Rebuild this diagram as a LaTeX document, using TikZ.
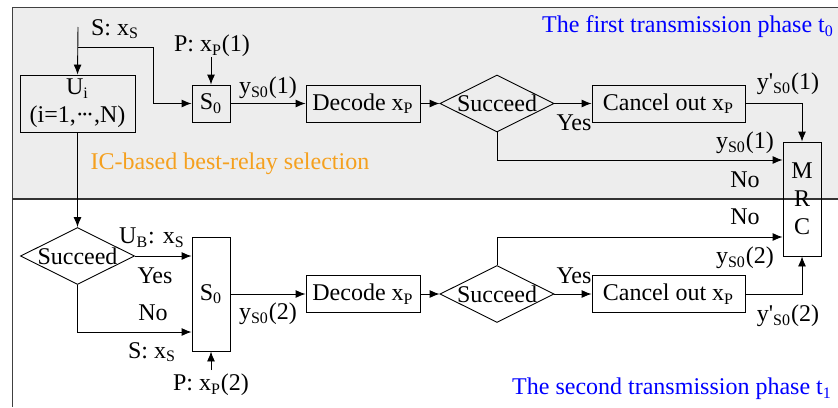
\documentclass[tikz,border=0pt]{standalone}
\usepackage{fontspec}
\setmainfont{Liberation Serif}
\usepackage{tikz}
\usetikzlibrary{arrows,arrows.meta,shapes.geometric}

\definecolor{phaseblue}{RGB}{0,0,255}
\definecolor{icorange}{RGB}{245,160,30}
\definecolor{panelgray}{RGB}{237,237,237}

\newcommand{\middots}{\textperiodcentered\kern-0.12em\textperiodcentered\kern-0.12em\textperiodcentered}

\tikzset{
	blk/.style={draw, inner sep=0pt, minimum height=18.5pt},
	dec/.style={draw, shape=diamond, aspect=2, inner sep=0pt, minimum width=57pt, minimum height=28.5pt},
	lnk/.style={-{Latex[length=5pt,width=4pt]}}
}

\begin{document}
\begin{tikzpicture}[x=0.5pt, y=-0.5pt, line width=0.45pt, every node/.append style={font=\rmfamily\fontsize{12}{14}\selectfont}]
	\useasboundingbox (0,0) rectangle (838,407);
	% panels
	\fill[panelgray] (12,7) rectangle (838,199);
	\draw[black!75] (838,7) -- (12,7) -- (12,407);
	\draw[black!80, line width=1.3pt] (12,199) -- (838,199);

	% first phase
	\node[blk, minimum width=57.5pt, minimum height=28.5pt, align=center] (Ui) at (77.5,103.5) {U\textsubscript{i}\\(i=1,\middots,N)};
	\node[blk, minimum width=19pt] (S0a) at (211,103.5) {S\textsubscript{0}};
	\node[blk, minimum width=57pt] (deca) at (363,103.5) {Decode x\textsubscript{P}};
	\node[dec] (suca) at (497,103.5) {Succeed};
	\node[blk, minimum width=76.5pt] (canca) at (668.5,103.5) {Cancel out x\textsubscript{P}};
	\node[blk, minimum width=19pt, minimum height=57pt, align=center] (mrc) at (802,199) {M\\R\\C};
	\coordinate (sin) at (78,27);
	\coordinate (br) at (78,47);
	\coordinate (pin1) at (211,57);

	\draw[lnk] (sin) -- (Ui.north);
	\draw[lnk] (br) -- ++(75,0) |- (S0a.west);
	\draw[lnk] (pin1) -- (S0a.north);
	\draw[lnk] (S0a) -- (deca);
	\draw[lnk] (deca) -- (suca);
	\draw[lnk] (suca) -- (canca);
	\draw[lnk] (canca.east) -| (mrc.north);
	\draw[lnk] (suca.south) |- ([yshift=19.5pt]mrc.west);

	\draw (115,29) node {S: x\textsubscript{S}};
	\draw (212,46) node {P: x\textsubscript{P}(1)};
	\draw (268,88) node {y\textsubscript{S0}(1)};
	\draw (574,123) node {Yes};
	\draw (788,84) node {y\textquotesingle\textsubscript{S0}(1)};
	\draw (745,143) node {y\textsubscript{S0}(1)};
	\draw (745,180) node {No};
	\draw (230,164) node[text=icorange] {IC-based best-relay selection};
	\draw (688,27) node[text=phaseblue] {The first transmission phase t\textsubscript{0}};

	% second phase
	\node[dec] (sucb) at (77.5,256) {Succeed};
	\node[blk, minimum width=19pt, minimum height=57pt] (S0b) at (211,294) {S\textsubscript{0}};
	\node[blk, minimum width=57pt] (decb) at (363,294) {Decode x\textsubscript{P}};
	\node[dec] (succ) at (497,294) {Succeed};
	\node[blk, minimum width=76.5pt] (cancb) at (668.5,294) {Cancel out x\textsubscript{P}};
	\coordinate (pin2) at (211,370);

	\draw[lnk] (Ui.south) -- (sucb.north);
	\draw[lnk] (sucb.east) -- ([yshift=19pt]S0b.west);
	\draw[lnk] (sucb.south) |- ([yshift=-19pt]S0b.west);
	\draw[lnk] (pin2) -- (S0b.south);
	\draw[lnk] (S0b) -- (decb);
	\draw[lnk] (decb) -- (succ);
	\draw[lnk] (succ) -- (cancb);
	\draw[lnk] (cancb.east) -| (mrc.south);
	\draw[lnk] (succ.north) |- ([yshift=-19pt]mrc.west);

	\draw (152,238) node {U\textsubscript{B}: x\textsubscript{S}};
	\draw (155,276) node {Yes};
	\draw (153,313) node {No};
	\draw (152,352) node {S: x\textsubscript{S}};
	\draw (211,385) node {P: x\textsubscript{P}(2)};
	\draw (268,314) node {y\textsubscript{S0}(2)};
	\draw (574,276) node {Yes};
	\draw (745,217) node {No};
	\draw (745,258) node {y\textsubscript{S0}(2)};
	\draw (788,316) node {y\textquotesingle\textsubscript{S0}(2)};
	\draw (672,389) node[text=phaseblue] {The second transmission phase t\textsubscript{1}};
\end{tikzpicture}
\end{document}
